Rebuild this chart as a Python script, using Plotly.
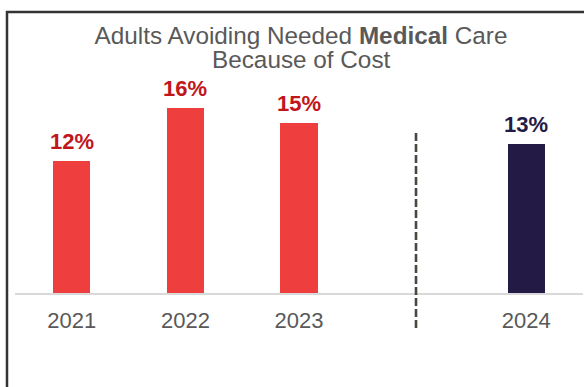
import plotly.graph_objects as go

# ---- data ----
years = ["2021", "2022", "2023", "2024"]
values = [11.7, 16.4, 15.1, 13.2]          # bar heights (percent)
labels = ["12%", "16%", "15%", "13%"]
bar_colors = ["#EE3E3E", "#EE3E3E", "#EE3E3E", "#231A45"]
label_colors = ["#C0161C", "#C0161C", "#C0161C", "#231A45"]
gap_category = " "                         # empty slot holding the dashed divider
categories = ["2021", "2022", "2023", gap_category, "2024"]
title_line1 = "Adults Avoiding Needed <b>Medical</b> Care"
title_line2 = "Because of Cost"

W, H = 584, 387
ML, MR, MT, MB = 15, 1, 90, 94
pw = W - ML - MR
ph = H - MT - MB

FONT = "Arial, Liberation Sans, Helvetica, sans-serif"


def py2paper(py):
    return (H - MB - py) / ph


def px2paper(px):
    return (px - ML) / pw


fig = go.Figure()
fig.add_trace(go.Bar(
    x=years, y=values,
    marker=dict(color=bar_colors, line=dict(width=0)),
    width=0.326,
    hoverinfo="skip",
))

# value labels above the bars
for yr, v, lab, c in zip(years, values, labels, label_colors):
    fig.add_annotation(
        x=categories.index(yr), y=v, text="<b>%s</b>" % lab, showarrow=False,
        xref="x", yref="y", xanchor="center", yanchor="bottom", yshift=5,
        font=dict(family=FONT, size=22, color=c),
    )

# dashed divider at the empty category slot
ncat = len(categories)
gap_idx = categories.index(gap_category)
xdiv = (gap_idx + 0.5 + 0.03) / ncat
fig.add_shape(type="line", xref="paper", yref="paper",
              x0=xdiv, x1=xdiv, y0=py2paper(328), y1=py2paper(133),
              line=dict(color="#4A4740", width=2.6, dash="8px,3px"))

# outer frame (extends past the right/bottom edges)
fig.add_shape(type="rect", xref="paper", yref="paper",
              x0=px2paper(7), x1=px2paper(W + 20),
              y0=py2paper(H + 20), y1=py2paper(12),
              line=dict(color="#333333", width=2.5), fillcolor="rgba(0,0,0,0)")

# second title line
fig.add_annotation(text=title_line2, showarrow=False,
                   xref="paper", yref="paper",
                   x=px2paper(301), y=py2paper(59.5),
                   xanchor="center", yanchor="middle",
                   font=dict(family=FONT, size=24.3, color="#595959"))

fig.update_layout(
    width=W, height=H,
    margin=dict(l=ML, r=MR, t=MT, b=MB, pad=0),
    paper_bgcolor="white", plot_bgcolor="white",
    showlegend=False,
    title=dict(
        text=title_line1,
        x=301 / W, xref="container", xanchor="center",
        y=1 - 35 / H, yref="container", yanchor="middle",
        font=dict(family=FONT, size=24.3, color="#595959"),
    ),
    xaxis=dict(
        type="category", categoryorder="array", categoryarray=categories,
        range=[-0.5, ncat - 0.5],
        tickvals=years, ticktext=years,
        showline=True, linecolor="#D9D9D9", linewidth=1.5,
        showgrid=False, zeroline=False, ticks="",
        tickfont=dict(family=FONT, size=22, color="#595959"),
        ticklabelstandoff=7,
        fixedrange=True,
    ),
    yaxis=dict(range=[0, 18], visible=False, fixedrange=True),
    bargap=0,
)

fig.write_html("out.html")
